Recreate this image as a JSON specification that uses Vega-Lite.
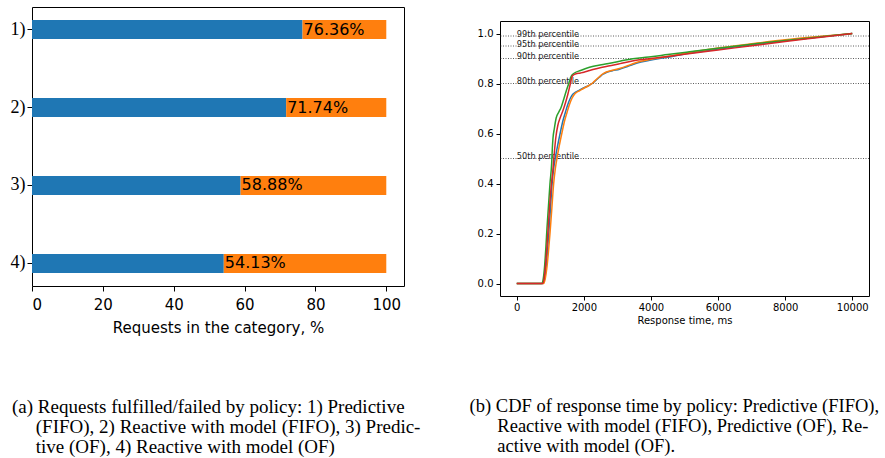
{
  "$schema": "https://vega.github.io/schema/vega-lite/v6.json",
  "padding": {"left": 9, "top": 6, "right": 0, "bottom": 0},
  "spacing": 48,
  "resolve": {"scale": {"color": "independent"}},
  "config": {
    "font": "DejaVu Sans",
    "view": {"stroke": "black", "strokeWidth": 1},
    "axis": {"domain": false, "grid": false, "tickColor": "black", "labelColor": "black", "titleColor": "black", "titleFontWeight": "normal", "tickWidth": 1},
    "title": {"font": "Liberation Serif", "fontSize": 19, "fontWeight": "normal", "color": "black", "lineHeight": 20}
  },
  "hconcat": [
    {
      "width": 372,
      "height": 279,
      "title": {
        "text": [
          "(a) Requests fulfilled/failed by policy: 1) Predictive",
          "\u200b\u00a0\u00a0\u00a0\u00a0\u00a0(FIFO), 2) Reactive with model (FIFO), 3) Predic-",
          "\u200b\u00a0\u00a0\u00a0\u00a0\u00a0tive (OF), 4) Reactive with model (OF)"
        ],
        "orient": "bottom",
        "anchor": "start",
        "frame": "bounds",
        "dx": 2,
        "offset": 63
      },
      "data": {
        "values": [
          {"policy": "1)", "status": "fulfilled", "pct": 76.36},
          {"policy": "1)", "status": "failed", "pct": 23.64},
          {"policy": "2)", "status": "fulfilled", "pct": 71.74},
          {"policy": "2)", "status": "failed", "pct": 28.26},
          {"policy": "3)", "status": "fulfilled", "pct": 58.88},
          {"policy": "3)", "status": "failed", "pct": 41.12},
          {"policy": "4)", "status": "fulfilled", "pct": 54.13},
          {"policy": "4)", "status": "failed", "pct": 45.87}
        ]
      },
      "encoding": {
        "y": {
          "field": "policy",
          "type": "nominal",
          "sort": ["1)", "2)", "3)", "4)"],
          "scale": {"paddingInner": 0.756, "paddingOuter": 0.1665},
          "axis": {"title": null, "labelFont": "Liberation Serif", "labelFontSize": 18, "tickSize": 5, "labelPadding": 2, "labelAngle": 0}
        }
      },
      "layer": [
        {
          "mark": {"type": "bar"},
          "encoding": {
            "x": {
              "field": "pct",
              "type": "quantitative",
              "stack": "zero",
              "scale": {"domain": [0, 105], "nice": false, "zero": false},
              "axis": {"values": [0, 20, 40, 60, 80, 100], "title": "Requests in the category, %", "labelFontSize": 15, "titleFontSize": 15, "tickSize": 5, "labelPadding": 6, "titlePadding": 8}
            },
            "color": {
              "field": "status",
              "type": "nominal",
              "scale": {"domain": ["fulfilled", "failed"], "range": ["#1f77b4", "#ff7f0e"]},
              "legend": null
            },
            "order": {"field": "status", "sort": "descending"}
          }
        },
        {
          "transform": [
            {"filter": "datum.status === 'fulfilled'"},
            {"calculate": "format(datum.pct, '.2f') + '%'", "as": "label"}
          ],
          "mark": {"type": "text", "align": "left", "baseline": "middle", "fontSize": 16, "font": "DejaVu Sans", "color": "black", "dx": 1},
          "encoding": {
            "x": {"field": "pct", "type": "quantitative", "stack": null},
            "text": {"field": "label"}
          }
        }
      ]
    },
    {
      "title": {
        "text": [
          "(b) CDF of response time by policy: Predictive (FIFO),",
          "\u200b\u00a0\u00a0\u00a0\u00a0\u00a0\u00a0Reactive with model (FIFO), Predictive (OF), Re-",
          "\u200b\u00a0\u00a0\u00a0\u00a0\u00a0\u00a0active with model (OF)."
        ],
        "orient": "bottom",
        "anchor": "start",
        "frame": "bounds",
        "fontSize": 18.5,
        "dx": -7,
        "offset": 71
      },
      "spacing": 0,
      "vconcat": [
        {
          "width": 369,
          "height": 13,
          "view": {"stroke": null},
          "data": {"values": []},
          "mark": "point"
        },
        {
          "width": 369,
          "height": 275,
          "encoding": {
            "y": {
              "field": "cdf",
              "type": "quantitative",
              "scale": {"domain": [-0.05, 1.05], "nice": false, "zero": false},
              "axis": {"title": null, "values": [0, 0.2, 0.4, 0.6, 0.8, 1.0], "format": ".1f", "labelFontSize": 10, "tickSize": 4, "labelPadding": 3}
            }
          },
          "layer": [
            {
              "data": {
                "values": [
                  {"cdf": 0.99, "label": "99th percentile"},
                  {"cdf": 0.95, "label": "95th percentile"},
                  {"cdf": 0.9, "label": "90th percentile"},
                  {"cdf": 0.8, "label": "80th percentile"},
                  {"cdf": 0.5, "label": "50th percentile"}
                ]
              },
              "layer": [
                {
                  "mark": {"type": "rule", "color": "#333333", "strokeWidth": 0.8, "strokeDash": [1, 1.5]},
                  "encoding": {}
                },
                {
                  "mark": {"type": "text", "align": "left", "baseline": "alphabetic", "fontSize": 8.2, "color": "#222222", "dy": 0.5},
                  "encoding": {
                    "x": {"datum": 0, "type": "quantitative", "scale": {"domain": [-500, 10500], "nice": false, "zero": false}, "axis": {"title": "Response time, ms", "values": [0, 2000, 4000, 6000, 8000, 10000], "format": "d", "labelFontSize": 10, "titleFontSize": 10, "tickSize": 4, "labelPadding": 2, "titlePadding": 3}},
                    "text": {"field": "label"}
                  }
                }
              ]
            },
            {
              "data": {
                "values": [
                  {"series": "Predictive (FIFO)", "ms": 0, "cdf": 0},
                  {"series": "Predictive (FIFO)", "ms": 780, "cdf": 0},
                  {"series": "Predictive (FIFO)", "ms": 830, "cdf": 0.02},
                  {"series": "Predictive (FIFO)", "ms": 870, "cdf": 0.06},
                  {"series": "Predictive (FIFO)", "ms": 910, "cdf": 0.12},
                  {"series": "Predictive (FIFO)", "ms": 955, "cdf": 0.2},
                  {"series": "Predictive (FIFO)", "ms": 1000, "cdf": 0.29},
                  {"series": "Predictive (FIFO)", "ms": 1054, "cdf": 0.4},
                  {"series": "Predictive (FIFO)", "ms": 1100, "cdf": 0.46},
                  {"series": "Predictive (FIFO)", "ms": 1160, "cdf": 0.51},
                  {"series": "Predictive (FIFO)", "ms": 1223, "cdf": 0.555},
                  {"series": "Predictive (FIFO)", "ms": 1300, "cdf": 0.605},
                  {"series": "Predictive (FIFO)", "ms": 1372, "cdf": 0.649},
                  {"series": "Predictive (FIFO)", "ms": 1450, "cdf": 0.685},
                  {"series": "Predictive (FIFO)", "ms": 1521, "cdf": 0.716},
                  {"series": "Predictive (FIFO)", "ms": 1600, "cdf": 0.742},
                  {"series": "Predictive (FIFO)", "ms": 1670, "cdf": 0.757},
                  {"series": "Predictive (FIFO)", "ms": 1750, "cdf": 0.765},
                  {"series": "Predictive (FIFO)", "ms": 1820, "cdf": 0.77},
                  {"series": "Predictive (FIFO)", "ms": 1970, "cdf": 0.781},
                  {"series": "Predictive (FIFO)", "ms": 2150, "cdf": 0.792},
                  {"series": "Predictive (FIFO)", "ms": 2270, "cdf": 0.802},
                  {"series": "Predictive (FIFO)", "ms": 2370, "cdf": 0.814},
                  {"series": "Predictive (FIFO)", "ms": 2470, "cdf": 0.826},
                  {"series": "Predictive (FIFO)", "ms": 2570, "cdf": 0.837},
                  {"series": "Predictive (FIFO)", "ms": 2670, "cdf": 0.844},
                  {"series": "Predictive (FIFO)", "ms": 2850, "cdf": 0.851},
                  {"series": "Predictive (FIFO)", "ms": 3060, "cdf": 0.857},
                  {"series": "Predictive (FIFO)", "ms": 3300, "cdf": 0.868},
                  {"series": "Predictive (FIFO)", "ms": 3460, "cdf": 0.876},
                  {"series": "Predictive (FIFO)", "ms": 3700, "cdf": 0.886},
                  {"series": "Predictive (FIFO)", "ms": 3960, "cdf": 0.893},
                  {"series": "Predictive (FIFO)", "ms": 4500, "cdf": 0.905},
                  {"series": "Predictive (FIFO)", "ms": 5000, "cdf": 0.918},
                  {"series": "Predictive (FIFO)", "ms": 5500, "cdf": 0.928},
                  {"series": "Predictive (FIFO)", "ms": 6000, "cdf": 0.938},
                  {"series": "Predictive (FIFO)", "ms": 7000, "cdf": 0.955},
                  {"series": "Predictive (FIFO)", "ms": 8000, "cdf": 0.971},
                  {"series": "Predictive (FIFO)", "ms": 9000, "cdf": 0.986},
                  {"series": "Predictive (FIFO)", "ms": 10000, "cdf": 1.0},

                  {"series": "Reactive with model (FIFO)", "ms": 0, "cdf": 0},
                  {"series": "Reactive with model (FIFO)", "ms": 800, "cdf": 0},
                  {"series": "Reactive with model (FIFO)", "ms": 850, "cdf": 0.02},
                  {"series": "Reactive with model (FIFO)", "ms": 895, "cdf": 0.06},
                  {"series": "Reactive with model (FIFO)", "ms": 940, "cdf": 0.12},
                  {"series": "Reactive with model (FIFO)", "ms": 990, "cdf": 0.2},
                  {"series": "Reactive with model (FIFO)", "ms": 1040, "cdf": 0.29},
                  {"series": "Reactive with model (FIFO)", "ms": 1100, "cdf": 0.4},
                  {"series": "Reactive with model (FIFO)", "ms": 1150, "cdf": 0.46},
                  {"series": "Reactive with model (FIFO)", "ms": 1210, "cdf": 0.51},
                  {"series": "Reactive with model (FIFO)", "ms": 1273, "cdf": 0.555},
                  {"series": "Reactive with model (FIFO)", "ms": 1350, "cdf": 0.605},
                  {"series": "Reactive with model (FIFO)", "ms": 1422, "cdf": 0.649},
                  {"series": "Reactive with model (FIFO)", "ms": 1500, "cdf": 0.685},
                  {"series": "Reactive with model (FIFO)", "ms": 1571, "cdf": 0.716},
                  {"series": "Reactive with model (FIFO)", "ms": 1650, "cdf": 0.742},
                  {"series": "Reactive with model (FIFO)", "ms": 1720, "cdf": 0.757},
                  {"series": "Reactive with model (FIFO)", "ms": 1800, "cdf": 0.766},
                  {"series": "Reactive with model (FIFO)", "ms": 1870, "cdf": 0.771},
                  {"series": "Reactive with model (FIFO)", "ms": 2000, "cdf": 0.781},
                  {"series": "Reactive with model (FIFO)", "ms": 2150, "cdf": 0.792},
                  {"series": "Reactive with model (FIFO)", "ms": 2270, "cdf": 0.803},
                  {"series": "Reactive with model (FIFO)", "ms": 2370, "cdf": 0.816},
                  {"series": "Reactive with model (FIFO)", "ms": 2470, "cdf": 0.828},
                  {"series": "Reactive with model (FIFO)", "ms": 2570, "cdf": 0.839},
                  {"series": "Reactive with model (FIFO)", "ms": 2670, "cdf": 0.846},
                  {"series": "Reactive with model (FIFO)", "ms": 2850, "cdf": 0.853},
                  {"series": "Reactive with model (FIFO)", "ms": 3060, "cdf": 0.86},
                  {"series": "Reactive with model (FIFO)", "ms": 3300, "cdf": 0.871},
                  {"series": "Reactive with model (FIFO)", "ms": 3460, "cdf": 0.879},
                  {"series": "Reactive with model (FIFO)", "ms": 3700, "cdf": 0.889},
                  {"series": "Reactive with model (FIFO)", "ms": 3960, "cdf": 0.896},
                  {"series": "Reactive with model (FIFO)", "ms": 4500, "cdf": 0.908},
                  {"series": "Reactive with model (FIFO)", "ms": 5000, "cdf": 0.921},
                  {"series": "Reactive with model (FIFO)", "ms": 5500, "cdf": 0.932},
                  {"series": "Reactive with model (FIFO)", "ms": 6000, "cdf": 0.942},
                  {"series": "Reactive with model (FIFO)", "ms": 7000, "cdf": 0.959},
                  {"series": "Reactive with model (FIFO)", "ms": 8000, "cdf": 0.975},
                  {"series": "Reactive with model (FIFO)", "ms": 9000, "cdf": 0.988},
                  {"series": "Reactive with model (FIFO)", "ms": 10000, "cdf": 1.0},

                  {"series": "Predictive (OF)", "ms": 0, "cdf": 0},
                  {"series": "Predictive (OF)", "ms": 740, "cdf": 0},
                  {"series": "Predictive (OF)", "ms": 790, "cdf": 0.02},
                  {"series": "Predictive (OF)", "ms": 830, "cdf": 0.07},
                  {"series": "Predictive (OF)", "ms": 870, "cdf": 0.15},
                  {"series": "Predictive (OF)", "ms": 900, "cdf": 0.22},
                  {"series": "Predictive (OF)", "ms": 940, "cdf": 0.3},
                  {"series": "Predictive (OF)", "ms": 990, "cdf": 0.4},
                  {"series": "Predictive (OF)", "ms": 1040, "cdf": 0.48},
                  {"series": "Predictive (OF)", "ms": 1060, "cdf": 0.54},
                  {"series": "Predictive (OF)", "ms": 1080, "cdf": 0.582},
                  {"series": "Predictive (OF)", "ms": 1120, "cdf": 0.62},
                  {"series": "Predictive (OF)", "ms": 1174, "cdf": 0.662},
                  {"series": "Predictive (OF)", "ms": 1250, "cdf": 0.685},
                  {"series": "Predictive (OF)", "ms": 1323, "cdf": 0.705},
                  {"series": "Predictive (OF)", "ms": 1400, "cdf": 0.737},
                  {"series": "Predictive (OF)", "ms": 1472, "cdf": 0.769},
                  {"series": "Predictive (OF)", "ms": 1550, "cdf": 0.8},
                  {"series": "Predictive (OF)", "ms": 1621, "cdf": 0.829},
                  {"series": "Predictive (OF)", "ms": 1720, "cdf": 0.842},
                  {"series": "Predictive (OF)", "ms": 1900, "cdf": 0.852},
                  {"series": "Predictive (OF)", "ms": 2168, "cdf": 0.865},
                  {"series": "Predictive (OF)", "ms": 2573, "cdf": 0.876},
                  {"series": "Predictive (OF)", "ms": 3000, "cdf": 0.887},
                  {"series": "Predictive (OF)", "ms": 3160, "cdf": 0.892},
                  {"series": "Predictive (OF)", "ms": 3658, "cdf": 0.902},
                  {"series": "Predictive (OF)", "ms": 4000, "cdf": 0.907},
                  {"series": "Predictive (OF)", "ms": 4500, "cdf": 0.916},
                  {"series": "Predictive (OF)", "ms": 5149, "cdf": 0.927},
                  {"series": "Predictive (OF)", "ms": 6000, "cdf": 0.941},
                  {"series": "Predictive (OF)", "ms": 7000, "cdf": 0.957},
                  {"series": "Predictive (OF)", "ms": 8000, "cdf": 0.972},
                  {"series": "Predictive (OF)", "ms": 9000, "cdf": 0.986},
                  {"series": "Predictive (OF)", "ms": 10000, "cdf": 1.0},

                  {"series": "Reactive with model (OF)", "ms": 0, "cdf": 0},
                  {"series": "Reactive with model (OF)", "ms": 770, "cdf": 0},
                  {"series": "Reactive with model (OF)", "ms": 815, "cdf": 0.02},
                  {"series": "Reactive with model (OF)", "ms": 855, "cdf": 0.07},
                  {"series": "Reactive with model (OF)", "ms": 895, "cdf": 0.14},
                  {"series": "Reactive with model (OF)", "ms": 935, "cdf": 0.22},
                  {"series": "Reactive with model (OF)", "ms": 985, "cdf": 0.32},
                  {"series": "Reactive with model (OF)", "ms": 1034, "cdf": 0.4},
                  {"series": "Reactive with model (OF)", "ms": 1074, "cdf": 0.45},
                  {"series": "Reactive with model (OF)", "ms": 1124, "cdf": 0.53},
                  {"series": "Reactive with model (OF)", "ms": 1170, "cdf": 0.59},
                  {"series": "Reactive with model (OF)", "ms": 1223, "cdf": 0.632},
                  {"series": "Reactive with model (OF)", "ms": 1300, "cdf": 0.665},
                  {"series": "Reactive with model (OF)", "ms": 1372, "cdf": 0.69},
                  {"series": "Reactive with model (OF)", "ms": 1450, "cdf": 0.722},
                  {"series": "Reactive with model (OF)", "ms": 1521, "cdf": 0.756},
                  {"series": "Reactive with model (OF)", "ms": 1590, "cdf": 0.795},
                  {"series": "Reactive with model (OF)", "ms": 1651, "cdf": 0.829},
                  {"series": "Reactive with model (OF)", "ms": 1750, "cdf": 0.838},
                  {"series": "Reactive with model (OF)", "ms": 1900, "cdf": 0.842},
                  {"series": "Reactive with model (OF)", "ms": 2000, "cdf": 0.845},
                  {"series": "Reactive with model (OF)", "ms": 2170, "cdf": 0.852},
                  {"series": "Reactive with model (OF)", "ms": 2400, "cdf": 0.86},
                  {"series": "Reactive with model (OF)", "ms": 2665, "cdf": 0.868},
                  {"series": "Reactive with model (OF)", "ms": 3000, "cdf": 0.877},
                  {"series": "Reactive with model (OF)", "ms": 3160, "cdf": 0.882},
                  {"series": "Reactive with model (OF)", "ms": 3660, "cdf": 0.895},
                  {"series": "Reactive with model (OF)", "ms": 4000, "cdf": 0.9},
                  {"series": "Reactive with model (OF)", "ms": 4500, "cdf": 0.908},
                  {"series": "Reactive with model (OF)", "ms": 5000, "cdf": 0.917},
                  {"series": "Reactive with model (OF)", "ms": 6000, "cdf": 0.934},
                  {"series": "Reactive with model (OF)", "ms": 7000, "cdf": 0.951},
                  {"series": "Reactive with model (OF)", "ms": 8000, "cdf": 0.968},
                  {"series": "Reactive with model (OF)", "ms": 9000, "cdf": 0.984},
                  {"series": "Reactive with model (OF)", "ms": 10000, "cdf": 1.0}
                ]
              },
              "mark": {"type": "line", "strokeWidth": 1.5, "interpolate": "monotone"},
              "encoding": {
                "x": {"field": "ms", "type": "quantitative", "scale": {"domain": [-500, 10500], "nice": false, "zero": false}, "axis": {"title": "Response time, ms", "values": [0, 2000, 4000, 6000, 8000, 10000], "format": "d", "labelFontSize": 10, "titleFontSize": 10, "tickSize": 4, "labelPadding": 2, "titlePadding": 3}},
                "color": {
                  "field": "series",
                  "type": "nominal",
                  "scale": {"domain": ["Predictive (FIFO)", "Reactive with model (FIFO)", "Predictive (OF)", "Reactive with model (OF)"], "range": ["#1f77b4", "#ff7f0e", "#2ca02c", "#d62728"]},
                  "legend": null
                }
              }
            }
          ]
        }
      ]
    }
  ]
}
